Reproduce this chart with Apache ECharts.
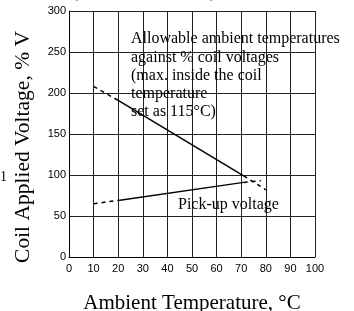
<!DOCTYPE html>
<html>
<head>
<meta charset="utf-8">
<script src="https://cdn.jsdelivr.net/npm/echarts@6/dist/echarts.min.js"></script>
<style>
  html, body { margin: 0; padding: 0; background: #fff; }
  #chart { width: 354px; height: 311px; }
</style>
</head>
<body>
<div id="chart"></div>
<script>
// axis ticks
const xTicks = [0, 10, 20, 30, 40, 50, 60, 70, 80, 90, 100]
const yTicks = [0, 50, 100, 150, 200, 250, 300]

// max. allowable voltage curve (dashed ends, solid middle)
const maxTemp = [10, 20, 71, 80]
const maxVolt = [208, 191, 99, 82]

// pick-up voltage curve
const pickTemp = [10, 20, 71, 78]
const pickVolt = [65, 69, 91, 93]

const noteLines = [
  'Allowable ambient temperatures',
  'against % coil voltages',
  '(max. inside the coil',
  'temperature',
  'set as 115°C)',
]

const serif = 'Liberation Serif, Times New Roman, serif'
const sans = 'Liberation Sans, Arial, sans-serif'

const pts = (xs, ys, a, b) => xs.slice(a, b + 1).map((x, i) => [x, ys[a + i]])

const line = (data, dashed) => ({
  type: 'line',
  data,
  symbol: 'none',
  silent: true,
  lineStyle: { color: '#000', width: 1.5, type: dashed ? [4, 4] : 'solid' },
  z: 3,
})

const chart = echarts.init(document.getElementById('chart'))

const option = {
  animation: false,
  grid: { left: 69, right: 39, top: 11, bottom: 54, containLabel: false, outerBoundsMode: 'none' },
  xAxis: {
    type: 'value',
    min: 0,
    max: 100,
    interval: 10,
    name: 'Ambient Temperature, °C',
    nameLocation: 'middle',
    nameGap: 36,
    nameTextStyle: { fontFamily: serif, fontSize: 21, color: '#000' },
    axisLine: { show: true, lineStyle: { color: '#000', width: 1 } },
    axisTick: { show: false },
    axisLabel: { fontFamily: sans, fontSize: 11, color: '#000', margin: 6,
      formatter: (v) => (xTicks.includes(v) ? String(v) : '') },
    splitLine: { show: true, lineStyle: { color: '#222', width: 1 } },
  },
  yAxis: {
    type: 'value',
    min: 0,
    max: 300,
    interval: 50,
    name: 'Coil Applied Voltage, % V',
    nameLocation: 'middle',
    nameGap: 35,
    nameRotate: 90,
    nameTextStyle: { fontFamily: serif, fontSize: 21.5, color: '#000', padding: [0, 26, 0, 0] },
    axisLine: { show: true, lineStyle: { color: '#000', width: 1 } },
    axisTick: { show: false },
    axisLabel: { fontFamily: sans, fontSize: 11, color: '#000', margin: 3,
      formatter: (v) => (yTicks.includes(v) ? String(v) : '') },
    splitLine: { show: true, lineStyle: { color: '#222', width: 1 } },
  },
  series: [
    line(pts(maxTemp, maxVolt, 0, 1), true),
    line(pts(maxTemp, maxVolt, 1, 2), false),
    line(pts(maxTemp, maxVolt, 2, 3), true),
    line(pts(pickTemp, pickVolt, 0, 1), true),
    line(pts(pickTemp, pickVolt, 1, 2), false),
    line(pts(pickTemp, pickVolt, 2, 3), true),
  ],
  graphic: [
    ...noteLines.map((t, i) => ({
      type: 'text',
      left: 131,
      top: 31 + i * 18.3,
      z: 10,
      style: { text: t, fontFamily: serif, fontSize: 16, fill: '#000' },
    })),
    {
      type: 'text', left: 178, top: 197, z: 10,
      style: { text: 'Pick-up voltage', fontFamily: serif, fontSize: 16, fill: '#000' },
    },
    {
      type: 'text', left: 72, top: -17, z: 10,
      style: { text: '(', fontFamily: serif, fontSize: 18, fill: '#000' },
    },
    {
      type: 'text', left: 210, top: -17, z: 10,
      style: { text: ')', fontFamily: serif, fontSize: 18, fill: '#000' },
    },
    {
      type: 'text', left: 0, top: 170, z: 10,
      style: { text: '1', fontFamily: serif, fontSize: 14, fill: '#000' },
    },
  ],
}

chart.setOption(option)
</script>
</body>
</html>
